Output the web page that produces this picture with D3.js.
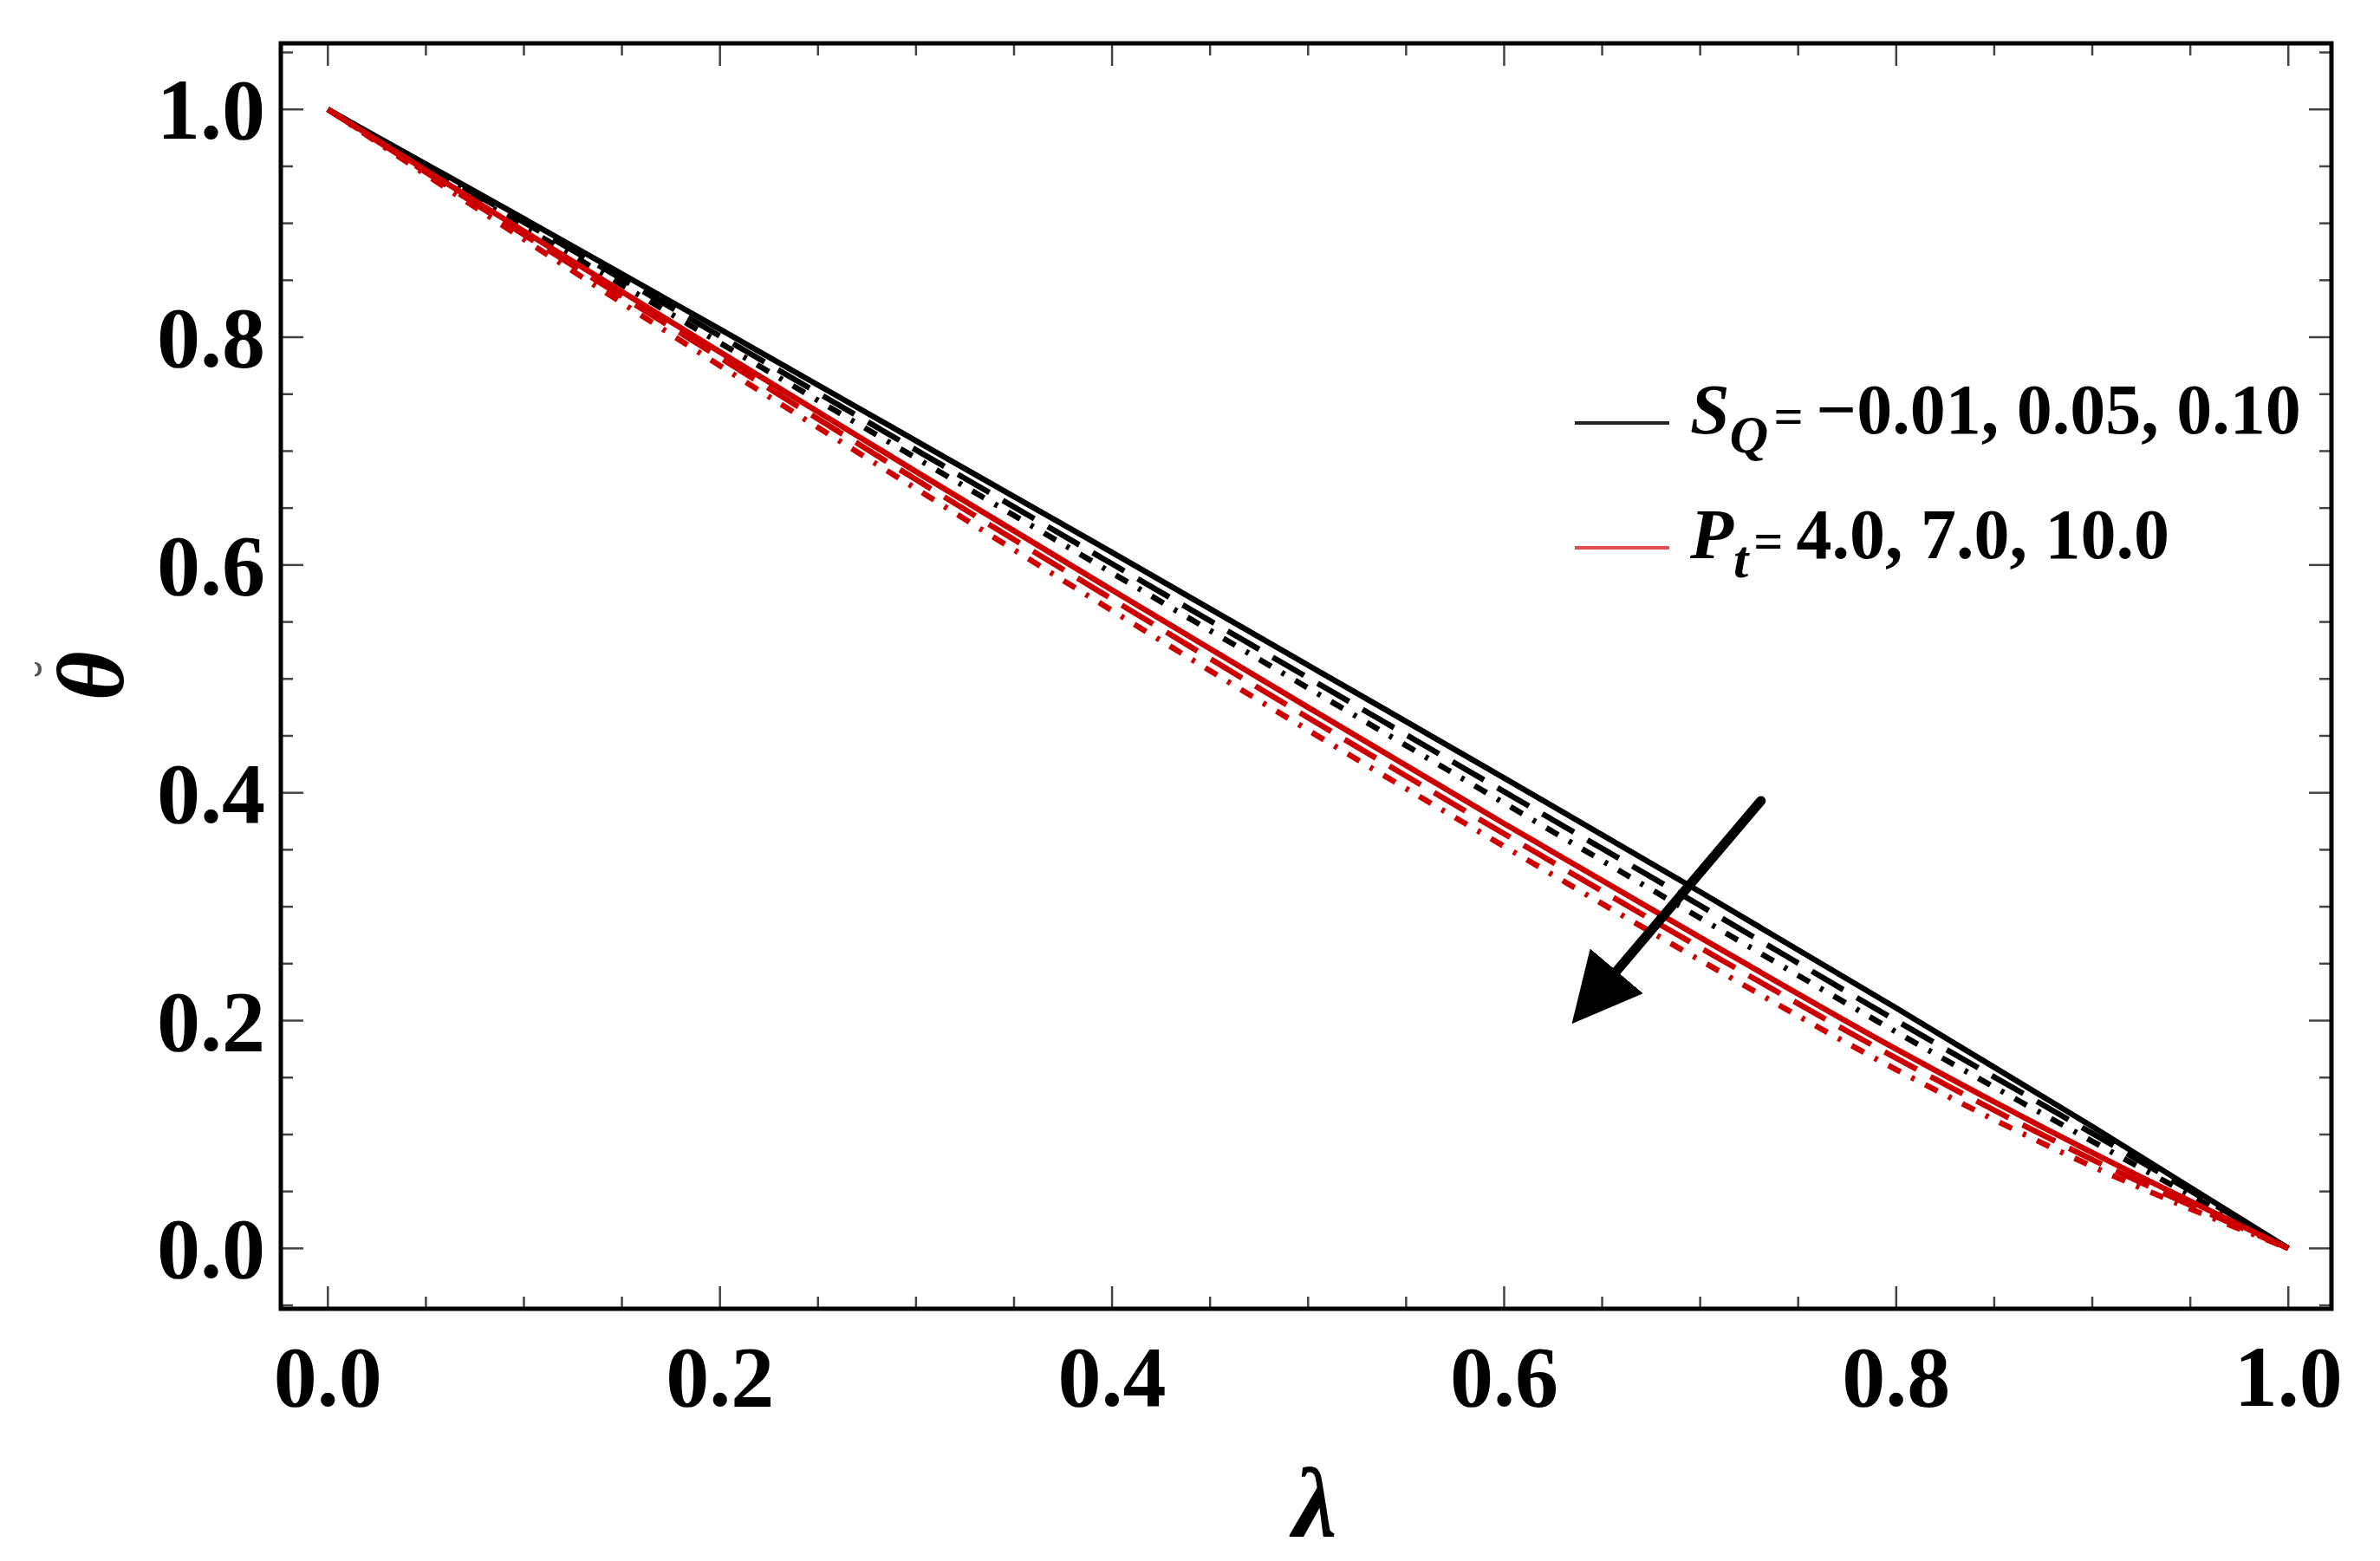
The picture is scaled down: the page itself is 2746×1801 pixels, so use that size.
<!DOCTYPE html>
<html><head><meta charset="utf-8">
<script src="https://cdn.jsdelivr.net/npm/d3@7"></script>
<style>body{margin:0;background:#fff}</style>
</head><body><svg id="chart"></svg>
<script>
const lambda = [0, 0.1, 0.2, 0.3, 0.4, 0.5, 0.6, 0.7, 0.8, 0.9, 1.0];
const sqSolid = [1, 0.904, 0.807, 0.709, 0.611, 0.512, 0.413, 0.313, 0.211, 0.107, 0];
const sqDashed = [1, 0.901, 0.801, 0.701, 0.601, 0.501, 0.401, 0.301, 0.200, 0.101, 0];
const sqDotDash = [1, 0.897, 0.795, 0.694, 0.593, 0.492, 0.391, 0.290, 0.190, 0.094, 0];
const ptSolid = [1, 0.893, 0.787, 0.682, 0.578, 0.475, 0.373, 0.273, 0.175, 0.084, 0];
const ptDashed = [1, 0.890, 0.782, 0.675, 0.570, 0.466, 0.364, 0.264, 0.167, 0.078, 0];
const ptDotDash = [1, 0.886, 0.775, 0.667, 0.560, 0.455, 0.353, 0.253, 0.157, 0.072, 0];
const tickLabels = ["0.0", "0.2", "0.4", "0.6", "0.8", "1.0"];
const arrowPts = [[0.731, 0.393], [0.636, 0.20]];

const size = { w: 2746, h: 1801 };
const frame = { l: 324, r: 2690, t: 50, b: 1510 };
const svg = d3.select("svg#chart").attr("width", size.w).attr("height", size.h);

const x = d3.scaleLinear().domain([-0.024, 1.022]).range([frame.l, frame.r]);
const y = d3.scaleLinear().domain([-0.053, 1.058]).range([frame.b, frame.t]);

const series = [
	{ v: sqSolid, c: "#000", dash: null },
	{ v: sqDashed, c: "#000", dash: "42,18" },
	{ v: sqDotDash, c: "#000", dash: "16,14,4,14" },
	{ v: ptSolid, c: "#cc0000", dash: null },
	{ v: ptDashed, c: "#cc0000", dash: "42,18" },
	{ v: ptDotDash, c: "#cc0000", dash: "16,14,4,14" },
];

svg.append("clipPath").attr("id", "clip").append("rect")
	.attr("x", frame.l).attr("y", frame.t).attr("width", frame.r - frame.l).attr("height", frame.b - frame.t);

const line = d3.line().x((d, i) => x(lambda[i])).y((d) => y(d)).curve(d3.curveMonotoneX);
svg.append("g").attr("clip-path", "url(#clip)")
	.selectAll("path").data(series).join("path")
	.attr("d", (d) => line(d.v))
	.attr("fill", "none")
	.attr("stroke", (d) => d.c)
	.attr("stroke-width", 6.5)
	.attr("stroke-dasharray", (d) => d.dash);

// ticks on all four sides, inside
const tg = svg.append("g").attr("stroke", "#444").attr("stroke-width", 2.5);
d3.range(0, 1.0001, 0.05).forEach((v) => {
	const major = Math.abs(Math.round(v * 5) - v * 5) < 1e-6;
	const len = major ? 26 : 14;
	tg.append("line").attr("x1", x(v)).attr("x2", x(v)).attr("y1", frame.b).attr("y2", frame.b - len);
	tg.append("line").attr("x1", x(v)).attr("x2", x(v)).attr("y1", frame.t).attr("y2", frame.t + len);
});
d3.range(-0.05, 1.0501, 0.05).forEach((v) => {
	const major = Math.abs(Math.round(v * 5) - v * 5) < 1e-6;
	const len = major ? 26 : 14;
	tg.append("line").attr("y1", y(v)).attr("y2", y(v)).attr("x1", frame.l).attr("x2", frame.l + len);
	tg.append("line").attr("y1", y(v)).attr("y2", y(v)).attr("x1", frame.r).attr("x2", frame.r - len);
});

svg.append("rect").attr("x", frame.l).attr("y", frame.t)
	.attr("width", frame.r - frame.l).attr("height", frame.b - frame.t)
	.attr("fill", "none").attr("stroke", "#000").attr("stroke-width", 5);

const font = "'Liberation Serif', 'DejaVu Serif', serif";
// tick labels
svg.append("g").selectAll("text").data(tickLabels).join("text")
	.attr("x", (d) => x(+d)).attr("y", 1622)
	.attr("text-anchor", "middle").attr("font-family", font).attr("font-weight", "bold")
	.attr("font-size", 100).text((d) => d);
svg.append("g").selectAll("text").data(tickLabels).join("text")
	.attr("x", 306).attr("y", (d) => y(+d) + 34)
	.attr("text-anchor", "end").attr("font-family", font).attr("font-weight", "bold")
	.attr("font-size", 100).text((d) => d);

// axis titles
svg.append("text").attr("x", 1517).attr("y", 1772).attr("text-anchor", "middle")
	.attr("font-family", font).attr("font-weight", "bold").attr("font-style", "italic")
	.attr("font-size", 115).text("λ");
const yt = svg.append("g").attr("transform", "translate(142,780) rotate(-90)");
yt.append("text").attr("text-anchor", "middle")
	.attr("font-family", font).attr("font-weight", "bold").attr("font-style", "italic")
	.attr("font-size", 110).text("θ");
yt.append("text").attr("text-anchor", "middle").attr("x", 8).attr("y", -62)
	.attr("font-family", font).attr("font-size", 60).attr("fill", "#555").text("˘");

// arrow
svg.append("defs").append("marker").attr("id", "head")
	.attr("viewBox", "0 0 10 10").attr("refX", 2).attr("refY", 5)
	.attr("markerUnits", "userSpaceOnUse")
	.attr("orient", "auto").attr("markerWidth", 80).attr("markerHeight", 80)
	.append("path").attr("d", "M0,0 L10,5 L0,10 Z").attr("fill", "#000");
svg.append("line")
	.attr("x1", x(arrowPts[0][0])).attr("y1", y(arrowPts[0][1]))
	.attr("x2", x(arrowPts[1][0]) + 38).attr("y2", y(arrowPts[1][1]) - 45)
	.attr("stroke", "#000").attr("stroke-width", 11).attr("stroke-linecap", "round")
	.attr("marker-end", "url(#head)");

// legend
const legend = [
	{ c: "#222", y: 488, sym: "S", sub: "Q", vals: "−0.01, 0.05, 0.10" },
	{ c: "#e05050", y: 632, sym: "P", sub: "t", vals: "4.0, 7.0, 10.0" },
];
legend.forEach((d) => {
	svg.append("line").attr("x1", 1817).attr("x2", 1926).attr("y1", d.y).attr("y2", d.y)
		.attr("stroke", d.c).attr("stroke-width", 4);
	const t = svg.append("text").attr("x", 1950).attr("y", d.y + 12)
		.attr("font-family", font).attr("font-weight", "bold").attr("font-size", 82);
	t.append("tspan").attr("font-style", "italic").text(d.sym);
	t.append("tspan").attr("font-style", "italic").attr("font-size", 62).attr("dy", 22).text(d.sub);
	t.append("tspan").attr("font-size", 60).attr("dy", -22).attr("dx", 6).text("= ");
	t.append("tspan").text(d.vals);
});
</script>
</body></html>
